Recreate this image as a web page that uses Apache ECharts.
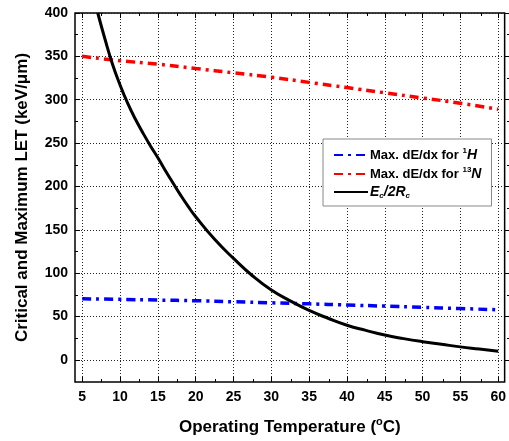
<!DOCTYPE html>
<html><head><meta charset="utf-8">
<script src="https://cdn.jsdelivr.net/npm/echarts@6/dist/echarts.min.js"></script>
<style>html,body{margin:0;padding:0;background:#fff}#c{width:509px;height:441px}</style>
</head><body><div id="c"></div>
<script>
const xMajor = [5,10,15,20,25,30,35,40,45,50,55,60];
const xMinor = [7.5,12.5,17.5,22.5,27.5,32.5,37.5,42.5,47.5,52.5,57.5];
const yMajor = [0,50,100,150,200,250,300,350,400];
const yMinor = [25,75,125,175,225,275,325,375];

const tempLin = [5,10,15,20,25,30,35,40,45,50,55,60];
const letH1 = [70.5,69.8,69,68.2,67,65.8,64.6,63.3,62,60.6,59.2,57.8];
const letN13 = [350,345,341,336,331,326,320,314,308,302,296,289];

const tempEc = [7.05,8,9,10,11,12,13,14,15,16,17,18,19,20,22.5,25,27.5,30,32.5,35,37.5,40,42.5,45,47.5,50,52.5,55,57.5,60];
const letEc = [400,370,341,317,296,278,262,247,233,218,204,190,177,165,139,117,97,80.5,68,57,48,40,34,28.6,24.5,21,18,15,12.5,10];

const FONT = 'Liberation Sans, Arial, sans-serif';
const pair = (xs, ys) => xs.map((x, i) => [x, ys[i]]);

const gridRect = {left: 75, right: 2, top: 13, bottom: 59};
const XMIN = 4.04, XMAX = 60.85, YMIN = -25.5, YMAX = 400;

const chart = echarts.init(document.getElementById('c'), null, {renderer: 'canvas'});
const gridLine = {show: true, lineStyle: {color: '#222', width: 1, type: [1, 2]}};

function xa(gridIndex, position, ticks, len, opts) {
  return Object.assign({
    type: 'value', gridIndex, position, min: XMIN, max: XMAX,
    axisLine: {show: false, onZero: false},
    axisTick: {show: true, inside: true, length: len, customValues: ticks, lineStyle: {color: '#000', width: 1}},
    axisLabel: {show: false},
    splitLine: {show: false}
  }, opts || {});
}
function ya(gridIndex, position, ticks, len, inside, opts) {
  return Object.assign({
    type: 'value', gridIndex, position, min: YMIN, max: YMAX,
    axisLine: {show: false, onZero: false},
    axisTick: {show: true, inside: inside, length: len, customValues: ticks, lineStyle: {color: '#000', width: 1}},
    axisLabel: {show: false},
    splitLine: {show: false}
  }, opts || {});
}

chart.setOption({
  animation: false,
  backgroundColor: '#fff',
  grid: [
    Object.assign({show: true, borderColor: '#000', borderWidth: 1.5, backgroundColor: 'transparent'}, gridRect),
    Object.assign({}, gridRect)
  ],
  xAxis: [
    xa(0, 'bottom', xMajor, 5, {
      axisLabel: {show: true, customValues: xMajor, margin: 8, color: '#000', fontFamily: FONT, fontWeight: 'bold', fontSize: 14},
      splitLine: gridLine,
      name: '{a|Operating Temperature (}{s|o}{a|C)}',
      nameLocation: 'middle', nameGap: 34,
      nameTextStyle: {rich: {
        a: {fontFamily: FONT, fontWeight: 'bold', fontSize: 17, color: '#000', verticalAlign: 'bottom', lineHeight: 20},
        s: {fontFamily: FONT, fontWeight: 'bold', fontSize: 11, color: '#000', verticalAlign: 'top', lineHeight: 20}
      }}
    }),
    xa(0, 'top', xMajor, 5),
    xa(1, 'bottom', xMinor, 3),
    xa(1, 'top', xMinor, 3)
  ],
  yAxis: [
    ya(0, 'left', yMajor, 5, true, {
      axisLabel: {show: true, customValues: yMajor, margin: 7, color: '#000', fontFamily: FONT, fontWeight: 'bold', fontSize: 14},
      splitLine: gridLine,
      name: 'Critical and Maximum LET (keV/μm)',
      nameLocation: 'middle', nameGap: 44,
      nameTextStyle: {fontFamily: FONT, fontWeight: 'bold', fontSize: 17, color: '#000'}
    }),
    ya(0, 'right', yMajor, 5, false),
    ya(1, 'left', yMinor, 3, true),
    ya(1, 'right', yMinor, 3, false)
  ],
  legend: {
    show: true, orient: 'vertical', left: 323, top: 139,
    backgroundColor: '#fff', borderColor: '#888', borderWidth: 1,
    padding: [8, 10, 6, 10], itemGap: 4, itemWidth: 34, itemHeight: 15,
    itemStyle: {opacity: 0},
    data: ['H1', 'N13', 'Ec'],
    formatter: function (name) {
      if (name === 'H1') return '{a|Max. dE/dx for }{s|1}{i|H}';
      if (name === 'N13') return '{a|Max. dE/dx for }{s|13}{i|N}';
      return '{i|E}{b|c}{i|/2R}{b|c}';
    },
    textStyle: {
      padding: [0, 0, 0, -3],
      rich: {
        a: {fontFamily: FONT, fontWeight: 'bold', fontSize: 13, color: '#000', lineHeight: 16},
        i: {fontFamily: FONT, fontWeight: 'bold', fontStyle: 'italic', fontSize: 14, color: '#000', lineHeight: 16},
        s: {fontFamily: FONT, fontWeight: 'bold', fontSize: 8, color: '#000', verticalAlign: 'top', lineHeight: 16},
        b: {fontFamily: FONT, fontWeight: 'bold', fontStyle: 'italic', fontSize: 8, color: '#000', verticalAlign: 'bottom', lineHeight: 14}
      }
    }
  },
  series: [
    {name: 'H1', type: 'line', xAxisIndex: 0, yAxisIndex: 0, data: pair(tempLin, letH1), showSymbol: false, symbol: 'none', smooth: true,
     lineStyle: {color: '#0000ff', width: 3.5, type: [9, 5, 3, 5]}, itemStyle: {color: '#0000ff'}, z: 3},
    {name: 'N13', type: 'line', xAxisIndex: 0, yAxisIndex: 0, data: pair(tempLin, letN13), showSymbol: false, symbol: 'none', smooth: true,
     lineStyle: {color: '#ff0000', width: 3.5, type: [9, 5, 3, 5]}, itemStyle: {color: '#ff0000'}, z: 3},
    {name: 'Ec', type: 'line', xAxisIndex: 0, yAxisIndex: 0, data: pair(tempEc, letEc), showSymbol: false, symbol: 'none', smooth: true,
     lineStyle: {color: '#000', width: 3}, itemStyle: {color: '#000'}, z: 4}
  ]
});
</script></body></html>
